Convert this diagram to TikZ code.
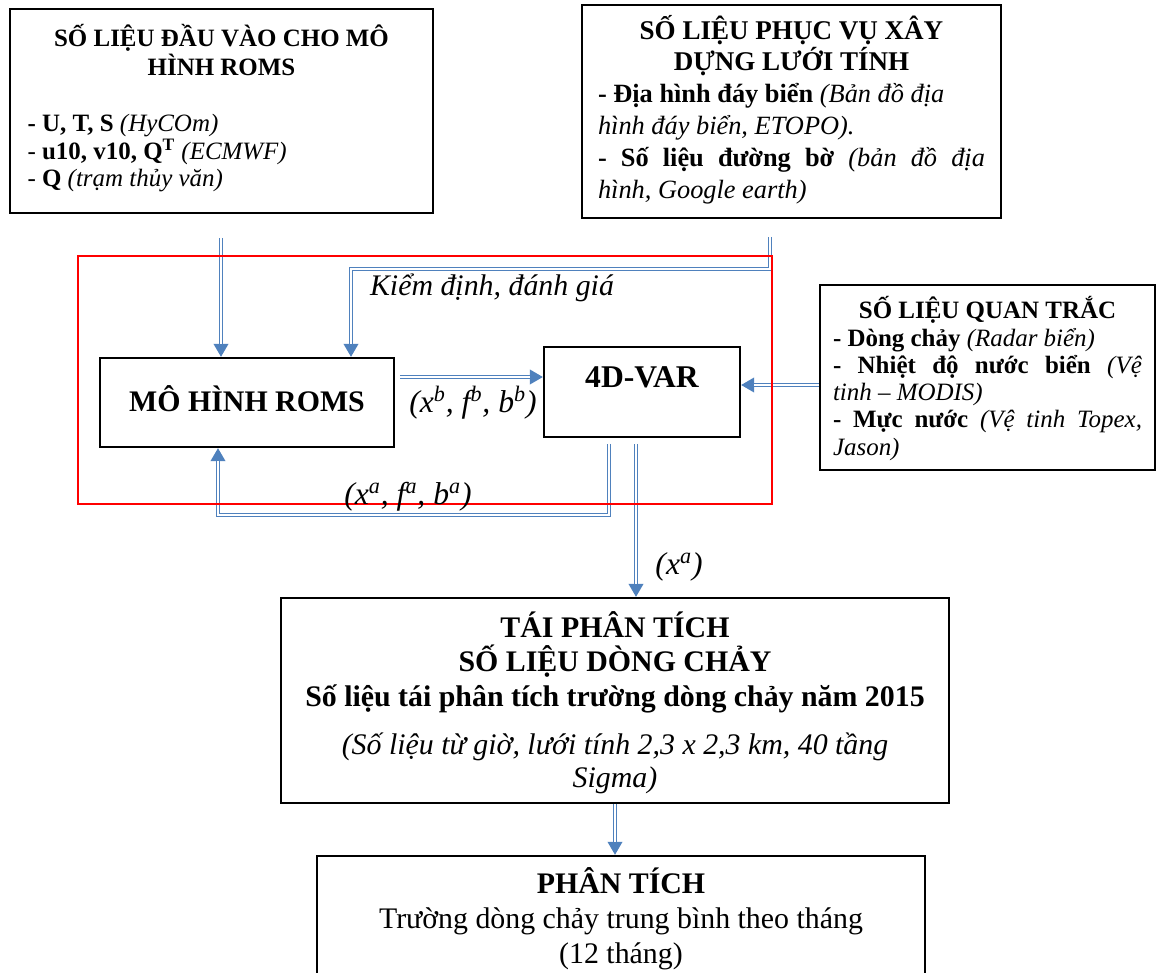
\documentclass[tikz,border=0pt]{standalone}
\usepackage{fontspec}
\setmainfont{Liberation Serif}
\usepackage{tikz}
\usetikzlibrary{arrows.meta, positioning, calc}
\definecolor{arrowBlue}{HTML}{4F81BD}
\definecolor{loopRed}{HTML}{FF0000}
\tikzset{
  box/.style={draw=black, line width=1.1pt, inner sep=0pt},
  txtA/.style={font=\fontsize{14.2}{15.6}\selectfont},
  txtG/.style={font=\fontsize{15}{18.2}\selectfont},
  txtB/.style={font=\fontsize{14.2}{15.5}\selectfont},
  txtC/.style={font=\fontsize{17}{19.9}\selectfont},
  dbl/.style={draw=arrowBlue, line width=2.6pt,
    -{Triangle[length=7.5pt, width=8pt]},
    postaction={draw=white, line width=0.9pt, -, shorten >=7.5pt}},
  elabel/.style={font=\fontsize{17}{17}\selectfont\itshape, inner sep=0pt},
  mlabel/.style={font=\fontsize{18}{18}\selectfont\itshape, inner sep=0pt},
  redloop/.style={draw=loopRed, line width=0.85pt},
}
\begin{document}
\begin{tikzpicture}[x=0.02cm, y=-0.02cm]
  \useasboundingbox (0,0) rectangle (1156,973);

  % ---- Input boxes -------------------------------------------------------
  \node[box, txtA, inner xsep=0.36cm] (inp) at (221.5,111)
    {\parbox[c][4.08cm][t]{7.76cm}{%
      {\centering\bfseries\baselineskip=13.7pt
       \rule{0pt}{21.6pt}SỐ LIỆU ĐẦU VÀO CHO MÔ\\HÌNH ROMS\par}
      \vspace{16.8pt}
      \textbf{- U, T, S} \textit{(HyCOm)}\\
      - \textbf{u10, v10, Q\textsuperscript{T}} \textit{(ECMWF)}\\
      - \textbf{Q} \textit{(trạm thủy văn)}}};

  \node[box, txtG, inner xsep=0.32cm] (grid) at (791.5,111.5)
    {\parbox[c][4.26cm][t]{7.74cm}{%
      {\centering\fontsize{15.4}{16}\selectfont\bfseries
       \rule{0pt}{19.9pt}SỐ LIỆU PHỤC VỤ XÂY\\DỰNG LƯỚI TÍNH\par}
      \textbf{- Địa hình đáy biển} \textit{(Bản đồ địa}\\
      \textit{hình đáy biển, ETOPO).}\par
      \textbf{- Số liệu đường bờ} \textit{(bản đồ địa}\linebreak
      \textit{hình, Google earth)}}};

  \node[box, txtB, inner xsep=0.26cm] (obs) at (987.5,377.5)
    {\parbox[c][3.7cm][t]{6.18cm}{%
      {\centering\bfseries\rule{0pt}{19.3pt}SỐ LIỆU QUAN TRẮC\par}
      \textbf{- Dòng chảy} \textit{(Radar biển)}\par
      \textbf{- Nhiệt độ nước biển} \textit{(Vệ}\linebreak
      \textit{tinh – MODIS)}\par
      \textbf{- Mực nước} \textit{(Vệ tinh Topex,}\linebreak
      \textit{Jason)}}};

  % ---- Model and assimilation --------------------------------------------
  \node[box, txtC] (roms) at (247,402.5)
    {\parbox[c][1.78cm][t]{5.88cm}{\centering\bfseries
      \rule{0pt}{30.2pt}MÔ HÌNH ROMS}};
  \node[box, txtC] (var) at (642,392)
    {\parbox[c][1.8cm][t]{3.92cm}{\centering\bfseries\fontsize{18}{20}\selectfont
      \rule{0pt}{22.8pt}4D-VAR}};

  % ---- Results -----------------------------------------------------------
  \node[box, txtC, inner xsep=0.28cm] (out) at (615,700.5)
    {\parbox[c][4.1cm][t]{12.8cm}{%
      {\centering\bfseries\rule{0pt}{22.2pt}TÁI PHÂN TÍCH\\SỐ LIỆU DÒNG CHẢY\\
       Số liệu tái phân tích trường dòng chảy năm 2015\par}
      \vspace{8.5pt}
      {\centering\itshape\baselineskip=18.8pt
       (Số liệu từ giờ, lưới tính 2,3 x 2,3 km, 40 tầng\\Sigma)\par}}};

  \node[box, txtC, inner xsep=0.28cm, anchor=north] (ana) at (621,855)
    {\parbox[c][2.8cm][t]{11.6cm}{%
      \centering\rule{0pt}{21.6pt}\textbf{PHÂN TÍCH}\\
      Trường dòng chảy trung bình theo tháng\\(12 tháng)}};

  % ---- Connector ends ----------------------------------------------------
  \coordinate (inpOut) at (221,238);
  \coordinate (gridOut) at (770,237);
  \coordinate (kdTurn) at (351,269);
  \coordinate (fbTurn) at (218,515);
  \coordinate (bOut) at ([shift={(0.1cm,0.51cm)}]roms.east);
  \coordinate (obsIn) at ([yshift=-0.15cm]obs.west);
  \coordinate (aOut) at ([shift={(-0.66cm,-0.12cm)}]var.south);
  \coordinate (xaOut) at ([shift={(-0.12cm,-0.12cm)}]var.south);

  % ---- Edges -------------------------------------------------------------
  \draw[dbl] (inpOut) -- (inpOut |- roms.north);
  \draw[dbl] (gridOut) |- (kdTurn) -- (kdTurn |- roms.north);
  \draw[dbl] (bOut) -- (bOut -| var.west);
  \draw[dbl] (obsIn) -- (obsIn -| var.east);
  \draw[dbl] (aOut) |- (fbTurn) -- (fbTurn |- roms.south);
  \draw[dbl] (xaOut) -- (xaOut |- out.north);
  \draw[dbl] (out.south) -- (out.south |- ana.north);

  % assimilation loop frame
  \draw[redloop] (78,256) rectangle (772,504);

  % ---- Labels ------------------------------------------------------------
  \node[elabel] (kdLabel) at (492,288) {Kiểm định, đánh giá};
  \node[mlabel] (bLabel) at (473,403)
    {(x\textsuperscript{b}, f\textsuperscript{b}, b\textsuperscript{b})};
  \node[mlabel] (aLabel) at (408,497)
    {(x\textsuperscript{a}, f\textsuperscript{a}, b\textsuperscript{a})};
  \node[mlabel] (xaLabel) at (679,567) {(x\textsuperscript{a})};

\end{tikzpicture}
\end{document}
